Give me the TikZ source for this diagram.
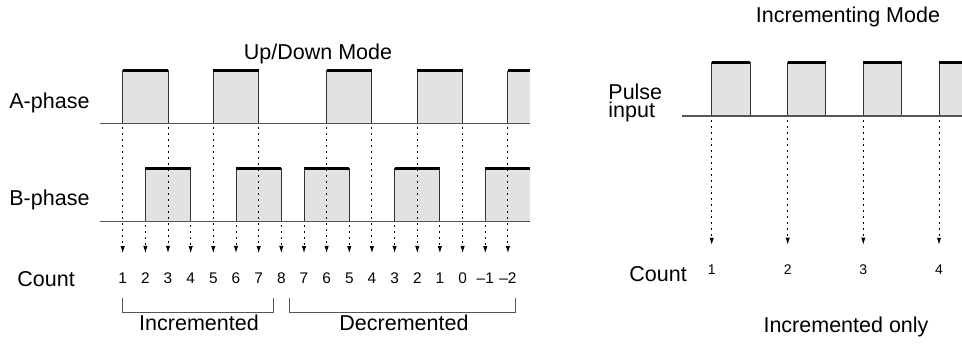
\documentclass[tikz,border=0pt]{standalone}
\usepackage{fontspec}
\setmainfont{Liberation Sans}
\usepackage{xcolor}
\usepackage{tikz}
\usetikzlibrary{arrows.meta}
\definecolor{pulsefill}{HTML}{E1E2E4}
\definecolor{wire}{HTML}{555555}

\begin{document}
\begin{tikzpicture}[
x=0.5pt,
y=-0.5pt,
every node/.style={font=\fontsize{10.75}{12}\selectfont,inner sep=0pt},
lbl/.style={anchor=base west},
title/.style={anchor=base},
cnt/.style={anchor=base,font=\fontsize{7.7}{9}\selectfont},
pcnt/.style={anchor=base,font=\fontsize{7}{8}\selectfont},
pulse/.style={fill=pulsefill,draw=black!80,line width=0.45pt},
openpulse/.style={draw=black!80,line width=0.45pt},
hitop/.style={draw=black,line width=1.3pt},
baseline/.style={draw=wire,line width=0.65pt},
tick/.style={-{Latex[length=3.6pt,width=2.2pt]},line width=0.5pt,dash pattern=on 0.9pt off 2.1pt,shorten >=9.5pt},
ptick/.style={-{Latex[length=3.6pt,width=2.2pt]},line width=0.5pt,dash pattern=on 0.9pt off 2.1pt,shorten >=10pt},
brk/.style={draw=wire,line width=0.5pt}
]
\useasboundingbox (0,0) rectangle (962,346);

% Up/Down mode: A-phase pulses
\filldraw[pulse] (122.7,123.3) |- (168,70.7) -- (168,123.3); \draw[hitop] (122.7,70.7) -- (168,70.7);
\filldraw[pulse] (213.3,123.3) |- (258.7,70.7) -- (258.7,123.3); \draw[hitop] (213.3,70.7) -- (258.7,70.7);
\filldraw[pulse] (326.6,123.3) |- (371.9,70.7) -- (371.9,123.3); \draw[hitop] (326.6,70.7) -- (371.9,70.7);
\filldraw[pulse] (417.3,123.3) |- (462.6,70.7) -- (462.6,123.3); \draw[hitop] (417.3,70.7) -- (462.6,70.7);
\fill[pulsefill] (507.9,123.3) rectangle (530,70.7); \draw[openpulse] (507.9,123.3) -- (507.9,70.7); \draw[hitop] (507.9,70.7) -- (530,70.7);
% B-phase pulses
\filldraw[pulse] (145.4,221.7) |- (190.7,168.3) -- (190.7,221.7); \draw[hitop] (145.4,168.3) -- (190.7,168.3);
\filldraw[pulse] (236,221.7) |- (281.3,168.3) -- (281.3,221.7); \draw[hitop] (236,168.3) -- (281.3,168.3);
\filldraw[pulse] (304,221.7) |- (349.3,168.3) -- (349.3,221.7); \draw[hitop] (304,168.3) -- (349.3,168.3);
\filldraw[pulse] (394.6,221.7) |- (439.9,168.3) -- (439.9,221.7); \draw[hitop] (394.6,168.3) -- (439.9,168.3);
\fill[pulsefill] (485.3,221.7) rectangle (530,168.3); \draw[openpulse] (485.3,221.7) -- (485.3,168.3); \draw[hitop] (485.3,168.3) -- (530,168.3);
\draw[baseline] (100,123.3) -- (530,123.3);
\draw[baseline] (100,221.7) -- (530,221.7);

\node[title] (udmode) at (318,60) {Up/Down Mode};
\node[lbl] (aphase) at (9,108.3) {A-phase};
\node[lbl] (bphase) at (9,205.7) {B-phase};
\node[lbl] (count) at (17,286.7) {Count};

\node[cnt] (cnt1) at (122.7,283.3) {1};
\node[cnt] (cnt2) at (145.4,283.3) {2};
\node[cnt] (cnt3) at (168,283.3) {3};
\node[cnt] (cnt4) at (190.7,283.3) {4};
\node[cnt] (cnt5) at (213.3,283.3) {5};
\node[cnt] (cnt6) at (236,283.3) {6};
\node[cnt] (cnt7) at (258.7,283.3) {7};
\node[cnt] (cnt8) at (281.3,283.3) {8};
\node[cnt] (cnt9) at (304,283.3) {7};
\node[cnt] (cnt10) at (326.6,283.3) {6};
\node[cnt] (cnt11) at (349.3,283.3) {5};
\node[cnt] (cnt12) at (371.9,283.3) {4};
\node[cnt] (cnt13) at (394.6,283.3) {3};
\node[cnt] (cnt14) at (417.3,283.3) {2};
\node[cnt] (cnt15) at (439.9,283.3) {1};
\node[cnt] (cnt16) at (462.6,283.3) {0};
\node[cnt] (cnt17) at (485.3,283.3) {\textendash1};
\node[cnt] (cnt18) at (507.9,283.3) {\textendash2};

\coordinate (ed1) at (122.7,127); \draw[tick] (ed1) -- (cnt1.north);
\coordinate (ed2) at (145.4,225.5); \draw[tick] (ed2) -- (cnt2.north);
\coordinate (ed3) at (168,127); \draw[tick] (ed3) -- (cnt3.north);
\coordinate (ed4) at (190.7,225.5); \draw[tick] (ed4) -- (cnt4.north);
\coordinate (ed5) at (213.3,127); \draw[tick] (ed5) -- (cnt5.north);
\coordinate (ed6) at (236,225.5); \draw[tick] (ed6) -- (cnt6.north);
\coordinate (ed7) at (258.7,127); \draw[tick] (ed7) -- (cnt7.north);
\coordinate (ed8) at (281.3,225.5); \draw[tick] (ed8) -- (cnt8.north);
\coordinate (ed9) at (304,225.5); \draw[tick] (ed9) -- (cnt9.north);
\coordinate (ed10) at (326.6,127); \draw[tick] (ed10) -- (cnt10.north);
\coordinate (ed11) at (349.3,225.5); \draw[tick] (ed11) -- (cnt11.north);
\coordinate (ed12) at (371.9,127); \draw[tick] (ed12) -- (cnt12.north);
\coordinate (ed13) at (394.6,225.5); \draw[tick] (ed13) -- (cnt13.north);
\coordinate (ed14) at (417.3,127); \draw[tick] (ed14) -- (cnt14.north);
\coordinate (ed15) at (439.9,225.5); \draw[tick] (ed15) -- (cnt15.north);
\coordinate (ed16) at (462.6,127); \draw[tick] (ed16) -- (cnt16.north);
\coordinate (ed17) at (485.3,225.5); \draw[tick] (ed17) -- (cnt17.north);
\coordinate (ed18) at (507.9,127); \draw[tick] (ed18) -- (cnt18.north);

\draw[brk] (122.3,297.7) |- (273.3,312.3) -- (273.3,297.7);
\draw[brk] (289,297.7) |- (515,312.3) -- (515,297.7);
\node[title] (incr) at (199,331) {Incremented};
\node[title] (decr) at (404,331) {Decremented};

% Incrementing mode
\filldraw[pulse] (711.7,116) |- (750,62.7) -- (750,116); \draw[hitop] (711.7,62.7) -- (750,62.7);
\filldraw[pulse] (787.7,116) |- (825.7,62.7) -- (825.7,116); \draw[hitop] (787.7,62.7) -- (825.7,62.7);
\filldraw[pulse] (863.3,116) |- (901.7,62.7) -- (901.7,116); \draw[hitop] (863.3,62.7) -- (901.7,62.7);
\fill[pulsefill] (939,116) rectangle (962,62.7); \draw[openpulse] (939,116) -- (939,62.7); \draw[hitop] (939,62.7) -- (962,62.7);
\draw[baseline] (681.7,116) -- (962,116);

\node[title] (incmode) at (848,23) {Incrementing Mode};
\node[anchor=north west,align=left,font=\fontsize{10.75}{9.2}\selectfont] (pulselbl) at (608,83.5) {Pulse\\input};
\node[lbl] (pcount) at (629,281.7) {Count};

\node[pcnt] (pcnt1) at (711.7,275) {1};
\node[pcnt] (pcnt2) at (787.7,275) {2};
\node[pcnt] (pcnt3) at (863.3,275) {3};
\node[pcnt] (pcnt4) at (939,275) {4};

\coordinate (ped1) at (711.7,120); \draw[ptick] (ped1) -- (pcnt1.north);
\coordinate (ped2) at (787.7,120); \draw[ptick] (ped2) -- (pcnt2.north);
\coordinate (ped3) at (863.3,120); \draw[ptick] (ped3) -- (pcnt3.north);
\coordinate (ped4) at (939,120); \draw[ptick] (ped4) -- (pcnt4.north);

\node[title] (inconly) at (846,332.7) {Incremented only};
\end{tikzpicture}
\end{document}
